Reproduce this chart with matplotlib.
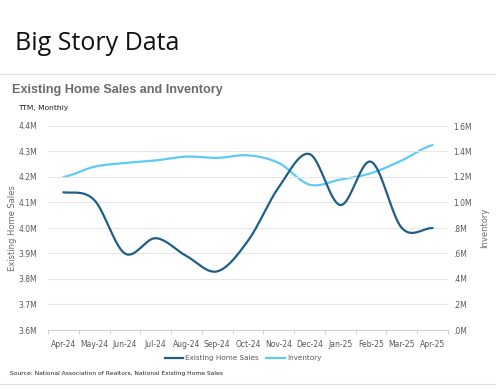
import numpy as np
import matplotlib
matplotlib.use("Agg")
import matplotlib.pyplot as plt
from matplotlib.ticker import FuncFormatter, FixedLocator

months = ["Apr-24", "May-24", "Jun-24", "Jul-24", "Aug-24", "Sep-24", "Oct-24",
          "Nov-24", "Dec-24", "Jan-25", "Feb-25", "Mar-25", "Apr-25"]
sales = [4.14, 4.11, 3.90, 3.96, 3.89, 3.83, 3.95, 4.16, 4.29, 4.09, 4.26, 4.00, 4.00]
inventory = [1.20, 1.28, 1.31, 1.33, 1.36, 1.35, 1.37, 1.31, 1.14, 1.18, 1.23, 1.33, 1.45]

DARK = "#1d5f86"
LIGHT = "#5fcaf5"
GRID = "#e6e6e6"
TXT = "#6b6b6b"


def smooth(x, y, n=20):
    # Catmull-Rom style smoothing (rendering only, like a spreadsheet "smoothed line")
    x = np.asarray(x, float)
    y = np.asarray(y, float)
    px = np.concatenate([[x[0] - (x[1] - x[0])], x, [x[-1] + (x[-1] - x[-2])]])
    py = np.concatenate([[y[0]], y, [y[-1]]])
    xs, ys = [], []
    t = np.linspace(0, 1, n, endpoint=False)
    for i in range(1, len(px) - 2):
        for arr, out in ((px, xs), (py, ys)):
            p0, p1, p2, p3 = arr[i - 1], arr[i], arr[i + 1], arr[i + 2]
            m1 = (p2 - p0) / 2
            m2 = (p3 - p1) / 2
            h00 = 2 * t**3 - 3 * t**2 + 1
            h10 = t**3 - 2 * t**2 + t
            h01 = -2 * t**3 + 3 * t**2
            h11 = t**3 - t**2
            out.extend(h00 * p1 + h10 * m1 + h01 * p2 + h11 * m2)
    xs.append(x[-1])
    ys.append(y[-1])
    return np.array(xs), np.array(ys)


W, H = 496, 390
fig = plt.figure(figsize=(W / 100, H / 100), dpi=100)
fig.patch.set_facecolor("white")

def fx(px):
    return px / W

def fy(py):
    return 1 - py / H

# header
fig.text(fx(15), fy(44), "Big Story Data", fontsize=18, family="Open Sans",
         color="#111111", va="center", ha="left")
fig.add_artist(plt.Line2D([0, 1], [fy(74), fy(74)], color="#dddddd", lw=0.8))
fig.add_artist(plt.Line2D([0, 1], [fy(384), fy(384)], color="#dddddd", lw=0.8))

fig.text(fx(12), fy(90), "Existing Home Sales and Inventory", fontsize=9.1,
         weight="bold", color=TXT, va="center", ha="left", family="Liberation Sans")
fig.text(fx(18), fy(108), "TTM, Monthly", fontsize=5.4, color="#222222",
         va="center", ha="left")

ax = fig.add_axes([fx(48), fy(330), fx(448) - fx(48), fy(126) - fy(330)])
ax2 = ax.twinx()

x = np.arange(len(months))
sx, sy = smooth(x, sales)
ix, iy = smooth(x, inventory)
ax2.plot(ix, iy, color=LIGHT, lw=1.6, solid_capstyle="round", zorder=2)
ax.plot(sx, sy, color=DARK, lw=1.6, solid_capstyle="round", zorder=3)
ax.set_zorder(ax2.get_zorder() + 1)
ax.patch.set_visible(False)

ax.set_xlim(-0.5, len(months) - 0.5)
ax.set_ylim(3.6, 4.4)
ax2.set_ylim(0, 1.6)
ax.set_yticks(np.arange(3.6, 4.41, 0.1))
ax2.set_yticks(np.arange(0, 1.61, 0.2))
ax.yaxis.set_major_formatter(FuncFormatter(lambda v, p: f"{v:.1f}M"))

def invfmt(v, p):
    s = f"{v:.1f}M"
    if s.startswith("0"):
        s = s[1:]
    return s

ax2.yaxis.set_major_formatter(FuncFormatter(invfmt))
ax.grid(axis="y", color=GRID, lw=0.8)
ax.set_axisbelow(True)

ax.set_xticks(x)
ax.set_xticklabels(months)
ax.xaxis.set_minor_locator(FixedLocator(np.arange(-0.5, len(months), 1)))
ax.tick_params(axis="x", which="major", length=0, labelsize=5.5,
               labelcolor="#595959", pad=7)
ax.tick_params(axis="x", which="minor", length=3, color="#d0d0d0", width=0.7)
ax.tick_params(axis="y", length=0, labelsize=5.5, labelcolor="#595959", pad=8)
ax2.tick_params(axis="y", length=0, labelsize=5.5, labelcolor="#595959", pad=4)

for a in (ax, ax2):
    for s in ("top", "left", "right"):
        a.spines[s].set_visible(False)
    a.spines["bottom"].set_color("#d0d0d0")
    a.spines["bottom"].set_linewidth(0.7)

ax.set_ylabel("Existing Home Sales", fontsize=6, color="#6b6b6b")
ax.yaxis.set_label_coords(-0.0775, 0.5)
ax2.set_ylabel("Inventory", fontsize=6, color="#6b6b6b", rotation=90)
ax2.yaxis.set_label_coords(1.08, 0.5)

# legend
fig.add_artist(plt.Line2D([fx(165), fx(183)], [fy(358), fy(358)], color=DARK, lw=1.6))
fig.text(fx(185), fy(358), "Existing Home Sales", fontsize=5.2, color="#595959",
         va="center", ha="left")
fig.add_artist(plt.Line2D([fx(266), fx(285)], [fy(358), fy(358)], color=LIGHT, lw=1.6))
fig.text(fx(287), fy(358), "Inventory", fontsize=5.2, color="#595959",
         va="center", ha="left")

fig.text(fx(10), fy(374), "Source: National Association of Realtors, National Existing Home Sales",
         fontsize=4.3, color="#222222", va="center", ha="left")

fig.savefig("out.png", dpi=100, facecolor="white")
